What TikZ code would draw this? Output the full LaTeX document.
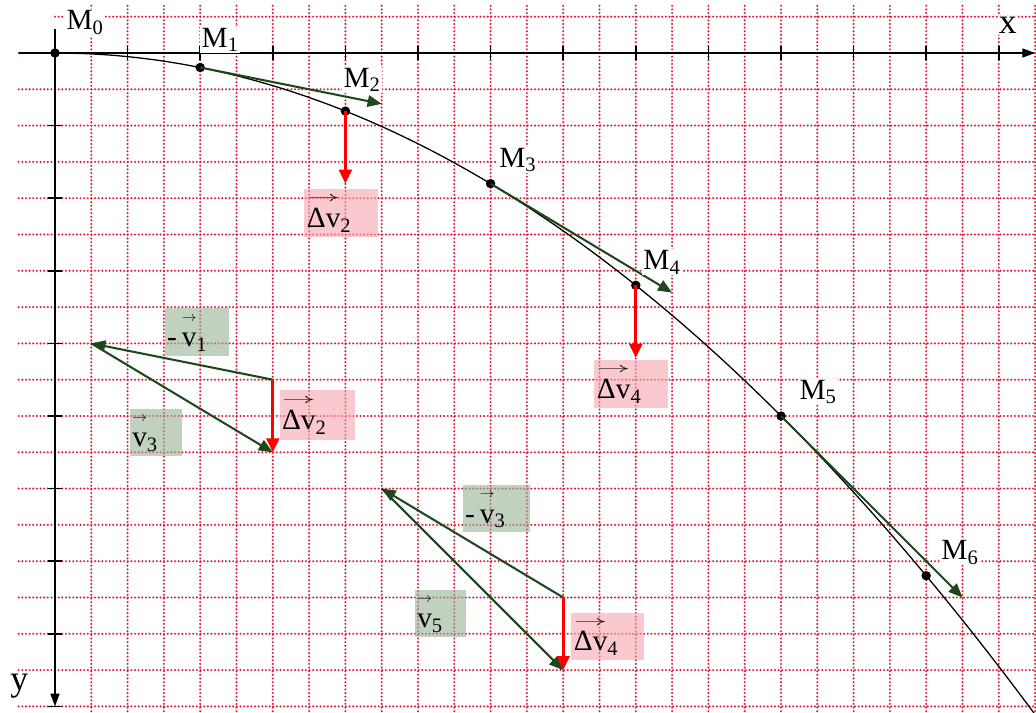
\documentclass[tikz,border=0pt]{standalone}
\usepackage{amsmath}
\usepackage{graphicx}
\usepackage{fontspec}
\setmainfont{Liberation Serif}
\usetikzlibrary{arrows.meta}
\definecolor{gridred}{RGB}{220,30,60}
\definecolor{vgreen}{RGB}{28,72,28}
\definecolor{pinkbox}{RGB}{245,165,175}
\definecolor{greenbox}{RGB}{150,178,150}
\newlength{\vw}
\newcommand{\vlab}[2]{\settowidth{\vw}{#1}$\overset{\resizebox{\vw}{4pt}{$\rightarrow$}}{\text{#1}\vphantom{\text{Δ}}}$\textsubscript{#2}}
\begin{document}
\begin{tikzpicture}[x=1cm,y=-1cm,
  font=\fontsize{23}{27}\selectfont,
  griddot/.style={gridred,line width=1.8pt,line cap=round,dash pattern=on 0pt off 2.85pt},
  axis/.style={line width=1.4pt,-{Triangle[length=10pt,width=7pt]}},
  pt/.style={circle,fill,inner sep=0pt,minimum size=0.26cm},
  mlab/.style={fill=white,inner sep=1pt},
  gvec/.style={vgreen,line width=1.6pt,-{Triangle[length=11pt,width=9pt]}},
  rvec/.style={red,line width=2.4pt,-{Triangle[length=11pt,width=10pt]}},
  pbox/.style={fill=pinkbox,fill opacity=0.6,text opacity=1,align=left,inner xsep=2pt},
  gbox/.style={fill=greenbox,fill opacity=0.6,text opacity=1,align=left,inner xsep=2pt}]
\clip (-1.515,-1.46) rectangle (27.025,18.18);
% grid
\foreach \i in {0,...,18} \draw[griddot] (-1,\i) -- (27.1,\i);
\draw[griddot] (0,-1) -- (27.1,-1);
\foreach \i in {1,...,27} \draw[griddot] (\i,-1.3) -- (\i,18.3);
% axes
\coordinate (xs) at (-1,0);
\coordinate (xe) at (27,0);
\coordinate (ys) at (0,-0.66);
\coordinate (ye) at (0,18);
\draw[axis] (xs) -- (xe);
\draw[axis] (ys) -- (ye);
\foreach \i in {2,4,...,26} \draw[line width=1.2pt] (\i,-0.18) -- (\i,0.18);
\foreach \i in {2,4,...,18} \draw[line width=1.2pt] (-0.18,\i) -- (0.18,\i);
\node[mlab,font=\fontsize{28}{32}\selectfont] (xl) at (26.25,-0.75) {x};
\node[mlab,font=\fontsize{28}{32}\selectfont] (yl) at (-0.98,17.45) {y};
% trajectory
\draw[line width=1pt] plot[domain=0:27.2,samples=80] (\x,{\x*\x/40});
% label boxes
\node[pbox,text width=1.9cm,minimum height=1.27cm] (d2a) at (7.89,4.41) {\vlab{Δv}{2}};
\node[gbox,text width=1.62cm,minimum height=1.32cm] (v1) at (3.9,7.69) {-\,\vlab{v}{1}};
\node[pbox,text width=1.95cm,minimum height=1.38cm] (d2b) at (7.23,9.97) {\vlab{Δv}{2}};
\node[gbox,text width=1.3cm,minimum height=1.24cm] (v3) at (2.78,10.45) {\vlab{v}{3}};
\node[pbox,text width=1.9cm,minimum height=1.32cm] (d4a) at (15.88,9.12) {\vlab{Δv}{4}};
\node[gbox,text width=1.72cm,minimum height=1.22cm] (v3b) at (12.16,12.55) {-\,\vlab{v}{3}};
\node[gbox,text width=1.28cm,minimum height=1.3cm] (v5) at (10.62,15.44) {\vlab{v}{5}};
\node[pbox,text width=1.85cm,minimum height=1.29cm] (d4b) at (15.22,16.07) {\vlab{Δv}{4}};
% points
\node[pt] (m0) at (0,0) {};
\node[pt] (m1) at (4,0.4) {};
\node[pt] (m2) at (8,1.6) {};
\node[pt] (m3) at (12,3.6) {};
\node[pt] (m4) at (16,6.4) {};
\node[pt] (m5) at (20,10) {};
\node[pt] (m6) at (24,14.4) {};
% velocity arrows
\coordinate (t1) at (9,1.4);
\coordinate (t3) at (17,6.6);
\coordinate (t5) at (25,15);
\draw[gvec] (m1.center) -- (t1);
\draw[gvec] (m3.center) -- (t3);
\draw[gvec] (m5.center) -- (t5);
\coordinate (r2) at (8,3.6);
\coordinate (r4) at (16,8.4);
\draw[rvec] (m2.center) -- (r2);
\draw[rvec] (m4.center) -- (r4);
% vector triangles
\coordinate (a1) at (6,9);
\coordinate (b1) at (1,8);
\coordinate (c1) at (6,11);
\draw[gvec] (a1) -- (b1);
\draw[gvec] (b1) -- (c1);
\draw[rvec] (a1) -- (c1);
\coordinate (a2) at (14,15);
\coordinate (b2) at (9,12);
\coordinate (c2) at (14,17);
\draw[gvec] (a2) -- (b2);
\draw[gvec] (b2) -- (c2);
\draw[rvec] (a2) -- (c2);
% point labels
\node[mlab] (l0) at (0.83,-0.85) {M\textsubscript{0}};
\node[mlab] (l1) at (4.55,-0.36) {M\textsubscript{1}};
\node[mlab] (l2) at (8.46,0.74) {M\textsubscript{2}};
\node[mlab] (l3) at (12.75,2.95) {M\textsubscript{3}};
\node[mlab] (l4) at (16.72,5.76) {M\textsubscript{4}};
\node[mlab] (l5) at (21.02,9.34) {M\textsubscript{5}};
\node[mlab] (l6) at (24.93,13.75) {M\textsubscript{6}};
\end{tikzpicture}
\end{document}
